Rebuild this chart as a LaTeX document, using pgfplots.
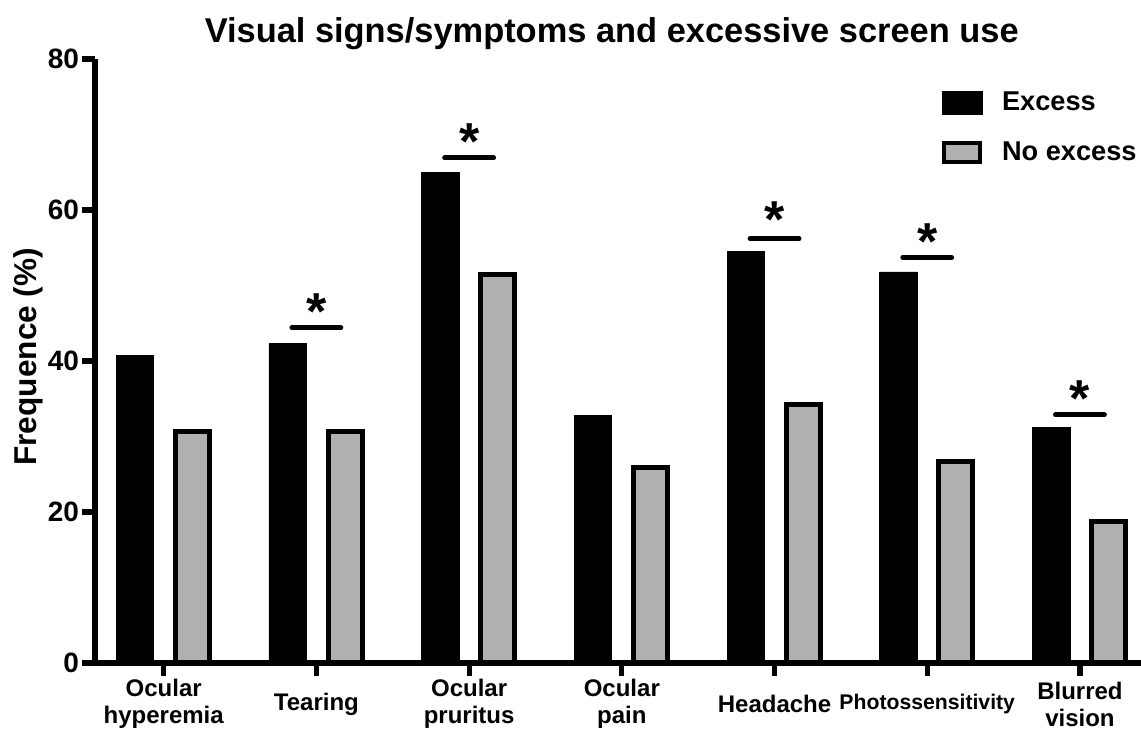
\documentclass[border=0pt]{standalone}
\usepackage{fontspec}
\setmainfont{Liberation Sans}
\usepackage{pgfplots}
\pgfplotsset{compat=1.18}
\definecolor{barGrey}{RGB}{176,176,176}
\begin{document}
\begin{tikzpicture}
\begin{axis}[
  width=523pt, height=302pt, scale only axis,
  xmin=-0.45, xmax=6.4, ymin=0, ymax=80,
  axis x line=bottom, axis y line=left,
  axis line style={-, line width=2.6pt, black},
  every tick/.style={black, line width=2.6pt},
  tick align=outside, major tick length=6.5pt,
  xtick={0,...,6},
  xticklabels={{Ocular\\hyperemia},Tearing,{Ocular\\pruritus},{Ocular\\pain},Headache,{\fontsize{10.6}{13.5}\selectfont Photossensitivity},{Blurred\\vision}},
  xticklabel style={align=center, anchor=center, yshift=-14pt, font=\fontsize{12}{13.5}\selectfont\bfseries},
  ytick={0,20,40,60,80},
  yticklabel style={font=\fontsize{14}{16}\selectfont\bfseries, xshift=2pt},
  /pgf/number format/assume math mode=true,
  ylabel={Frequence (\%)},
  ylabel style={at={(axis description cs:-0.064,0.507)}, anchor=center, font=\fontsize{15.8}{18}\selectfont\bfseries},
  clip=false,
  legend style={at={(axis description cs:0.809,0.953)}, anchor=north west, draw=none, fill=none,
    font=\fontsize{13.6}{16}\selectfont\bfseries, row sep=10.3pt, inner sep=0pt},
  legend cell align=left,
]
\addplot[ybar, bar width=0.246, bar shift=-0.188, fill=black, draw=black, line width=0.4pt,
  legend image code/.code={\draw[fill=black, draw=black] (0pt,-5.75pt) rectangle (20pt,5.75pt); \path[draw=none, fill=none] (0pt,0pt) -- (28pt,0pt);}]
  coordinates {(0,40.7) (1,42.3) (2,65.0) (3,32.8) (4,54.5) (5,51.8) (6,31.2)};
\addlegendentry{Excess}
\addplot[ybar, bar width=0.2225, bar shift=0.188, fill=barGrey, draw=black, line width=2.5pt,
  legend image code/.code={\draw[fill=barGrey, draw=black, line width=2pt] (1pt,-4.75pt) rectangle (19pt,4.75pt); \path[draw=none, fill=none] (0pt,0pt) -- (28pt,0pt);}]
  coordinates {(0,30.7) (1,30.7) (2,51.4) (3,25.9) (4,34.3) (5,26.7) (6,18.8)};
\addlegendentry{No excess}
% significance bars
\addplot[forget plot, black, line width=2.5pt, line cap=round] coordinates {(0.84,44.4) (1.16,44.4)};
\addplot[forget plot, black, line width=2.5pt, line cap=round] coordinates {(1.84,66.9) (2.16,66.9)};
\addplot[forget plot, black, line width=2.5pt, line cap=round] coordinates {(3.84,56.2) (4.16,56.2)};
\addplot[forget plot, black, line width=2.5pt, line cap=round] coordinates {(4.84,53.7) (5.16,53.7)};
\addplot[forget plot, black, line width=2.5pt, line cap=round] coordinates {(5.84,32.9) (6.16,32.9)};
\node[anchor=base, inner sep=0pt, font=\fontsize{26}{30}\selectfont\bfseries] at (axis cs:1,44.2) {*};
\node[anchor=base, inner sep=0pt, font=\fontsize{26}{30}\selectfont\bfseries] at (axis cs:2,66.7) {*};
\node[anchor=base, inner sep=0pt, font=\fontsize{26}{30}\selectfont\bfseries] at (axis cs:4,56.4) {*};
\node[anchor=base, inner sep=0pt, font=\fontsize{26}{30}\selectfont\bfseries] at (axis cs:5,53.5) {*};
\node[anchor=base, inner sep=0pt, font=\fontsize{26}{30}\selectfont\bfseries] at (axis cs:6,32.6) {*};
\node[anchor=base, font=\fontsize{17.2}{20}\selectfont\bfseries] at (axis description cs:0.494,1.028) {Visual signs/symptoms and excessive screen use};
\end{axis}
\pgfresetboundingbox
\path[use as bounding box] (-47.5pt,-35pt) rectangle (523pt,331.5pt);
\end{tikzpicture}
\end{document}
